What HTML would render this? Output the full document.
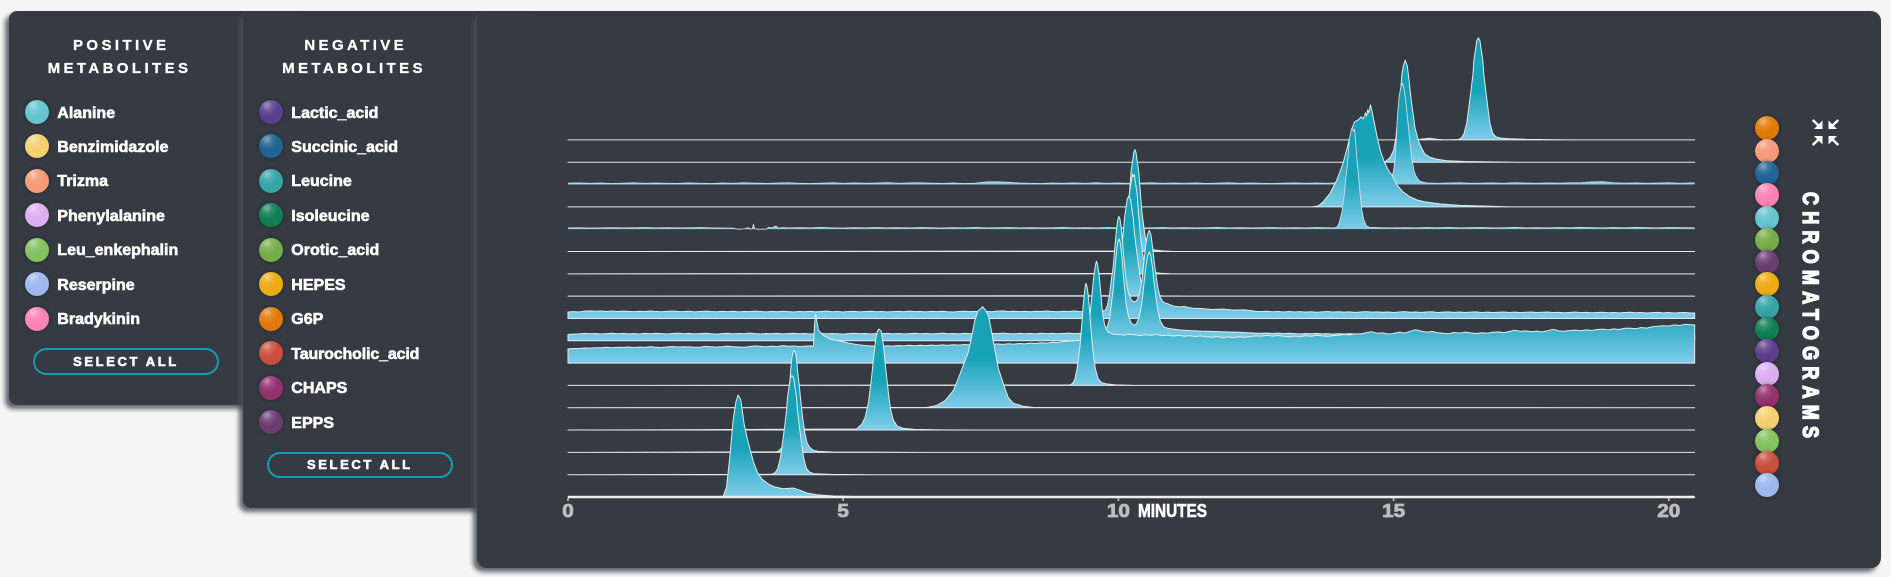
<!DOCTYPE html>
<html>
<head>
<meta charset="utf-8">
<title>Metabolite chromatograms</title>
<style>
html,body{margin:0;padding:0;width:1891px;height:577px;overflow:hidden;background:#f5f5f5;font-family:"Liberation Sans",sans-serif;}
.panel{position:absolute;background:#363a42;box-shadow:-4px 4px 5px rgba(70,80,92,.85);}
.title{position:absolute;left:0;text-align:center;color:#fff;font-weight:bold;font-size:15px;line-height:23px;letter-spacing:3.4px;text-indent:3.4px;-webkit-text-stroke:.3px #fff;}
.entry{position:absolute;left:16.3px;height:24px;width:190px;cursor:pointer;}
.chip{position:absolute;width:24px;height:24px;border-radius:50%;box-shadow:0 0 4px rgba(0,0,0,.35);background-image:radial-gradient(circle at 34% 22%,rgba(255,255,255,.45) 0,rgba(255,255,255,.12) 22%,rgba(255,255,255,0) 45%);}
.entry .chip{left:0;top:0;}
.lbl{position:absolute;left:32px;top:1.5px;color:#fff;font-weight:bold;font-size:16px;line-height:24px;white-space:nowrap;-webkit-text-stroke:.6px #fff;}
.btn{position:absolute;box-sizing:border-box;border:2px solid #149db5;border-radius:14px;color:#fff;font-weight:bold;font-size:13px;letter-spacing:2.6px;display:flex;align-items:center;justify-content:center;-webkit-text-stroke:.6px #fff;cursor:pointer;}
#chart{position:absolute;left:0;top:0;}
</style>
</head>
<body>

<div class="panel" style="left:9px;top:11px;width:300px;height:394px;border-radius:8px;z-index:1">
  <div class="title" style="top:22.5px;width:221px">POSITIVE<br>METABOLITES</div>
  <div class="entry" style="top:89px"><div class="chip" style="background-color:#65c5cf"></div><span class="lbl">Alanine</span></div>
  <div class="entry" style="top:123.45px"><div class="chip" style="background-color:#f5d070"></div><span class="lbl">Benzimidazole</span></div>
  <div class="entry" style="top:157.9px"><div class="chip" style="background-color:#f59a78"></div><span class="lbl">Trizma</span></div>
  <div class="entry" style="top:192.35px"><div class="chip" style="background-color:#dcaef0"></div><span class="lbl">Phenylalanine</span></div>
  <div class="entry" style="top:226.8px"><div class="chip" style="background-color:#84c260"></div><span class="lbl">Leu_enkephalin</span></div>
  <div class="entry" style="top:261.25px"><div class="chip" style="background-color:#9db8ee"></div><span class="lbl">Reserpine</span></div>
  <div class="entry" style="top:295.7px"><div class="chip" style="background-color:#ff83b2"></div><span class="lbl">Bradykinin</span></div>
  <div class="btn" style="left:24.3px;top:337.3px;width:185.4px;height:26.4px">SELECT ALL</div>
</div>

<div class="panel" style="left:243px;top:11px;width:300px;height:497px;border-radius:8px;z-index:2">
  <div class="title" style="top:22.5px;width:222px">NEGATIVE<br>METABOLITES</div>
  <div class="entry" style="top:89px"><div class="chip" style="background-color:#5b3f8e"></div><span class="lbl">Lactic_acid</span></div>
  <div class="entry" style="top:123.45px"><div class="chip" style="background-color:#1f6492"></div><span class="lbl">Succinic_acid</span></div>
  <div class="entry" style="top:157.9px"><div class="chip" style="background-color:#35a5a6"></div><span class="lbl">Leucine</span></div>
  <div class="entry" style="top:192.35px"><div class="chip" style="background-color:#0f7f53"></div><span class="lbl">Isoleucine</span></div>
  <div class="entry" style="top:226.8px"><div class="chip" style="background-color:#76ad48"></div><span class="lbl">Orotic_acid</span></div>
  <div class="entry" style="top:261.25px"><div class="chip" style="background-color:#eeaa13"></div><span class="lbl">HEPES</span></div>
  <div class="entry" style="top:295.7px"><div class="chip" style="background-color:#e07b0a"></div><span class="lbl">G6P</span></div>
  <div class="entry" style="top:330.15px"><div class="chip" style="background-color:#c84f3b"></div><span class="lbl" style="letter-spacing:-.15px">Taurocholic_acid</span></div>
  <div class="entry" style="top:364.6px"><div class="chip" style="background-color:#93306e"></div><span class="lbl">CHAPS</span></div>
  <div class="entry" style="top:399.05px"><div class="chip" style="background-color:#6a3d70"></div><span class="lbl">EPPS</span></div>
  <div class="btn" style="left:24px;top:441.3px;width:185.7px;height:25.4px">SELECT ALL</div>
</div>

<div class="panel" style="left:477px;top:11px;width:1404px;height:557px;border-radius:10px;z-index:3">
  <div class="chip" style="left:1277.8px;top:105.3px;background-color:#e07b0a"></div>
  <div class="chip" style="left:1277.8px;top:127.6px;background-color:#f59a78"></div>
  <div class="chip" style="left:1277.8px;top:149.9px;background-color:#1f6492"></div>
  <div class="chip" style="left:1277.8px;top:172.2px;background-color:#ff83b2"></div>
  <div class="chip" style="left:1277.8px;top:194.5px;background-color:#65c5cf"></div>
  <div class="chip" style="left:1277.8px;top:216.8px;background-color:#76ad48"></div>
  <div class="chip" style="left:1277.8px;top:239.1px;background-color:#6a3d70"></div>
  <div class="chip" style="left:1277.8px;top:261.4px;background-color:#eeaa13"></div>
  <div class="chip" style="left:1277.8px;top:283.7px;background-color:#35a5a6"></div>
  <div class="chip" style="left:1277.8px;top:306px;background-color:#0f7f53"></div>
  <div class="chip" style="left:1277.8px;top:328.3px;background-color:#5b3f8e"></div>
  <div class="chip" style="left:1277.8px;top:350.6px;background-color:#dcaef0"></div>
  <div class="chip" style="left:1277.8px;top:372.9px;background-color:#93306e"></div>
  <div class="chip" style="left:1277.8px;top:395.2px;background-color:#f5d070"></div>
  <div class="chip" style="left:1277.8px;top:417.5px;background-color:#84c260"></div>
  <div class="chip" style="left:1277.8px;top:439.8px;background-color:#c84f3b"></div>
  <div class="chip" style="left:1277.8px;top:462.1px;background-color:#9db8ee"></div>
</div>

<svg id="chart" width="1891" height="577" viewBox="0 0 1891 577" style="z-index:4">
  <defs id="chart-defs"></defs>
  <g id="series-layer"></g>
  <g id="axis-layer"></g>
  <text x="1138" y="517" font-family="Liberation Sans, sans-serif" font-weight="bold" font-size="18" fill="#fff" stroke="#fff" stroke-width=".6" textLength="69" lengthAdjust="spacingAndGlyphs">MINUTES</text>
  <text transform="translate(1803,192) rotate(90) scale(1,1.22)" font-family="Liberation Sans, sans-serif" font-weight="bold" font-size="18" fill="#fff" stroke="#fff" stroke-width="1.2" textLength="246">CHROMATOGRAMS</text>
  <g stroke="#fff" stroke-width="2.5" fill="#fff" style="cursor:pointer">
    <line x1="1812.7" y1="120" x2="1819" y2="126"/><polygon stroke="none" points="1822.5,129 1814,129 1822.5,120.5"/>
    <line x1="1838.3" y1="120" x2="1832" y2="126"/><polygon stroke="none" points="1828.5,129 1837,129 1828.5,120.5"/>
    <line x1="1812.7" y1="145" x2="1819" y2="139"/><polygon stroke="none" points="1822.5,136 1814,136 1822.5,144.5"/>
    <line x1="1838.3" y1="145" x2="1832" y2="139"/><polygon stroke="none" points="1828.5,136 1837,136 1828.5,144.5"/>
  </g>
</svg>

<script>
// ---- Chart data (time in minutes, intensity in display units) ----
const xTickValues = [0, 5, 10, 15, 20];
const xTickLabels = ["0", "5", "10", "15", "20"];
const timeEnd = 20.47;
const fineNoiseStep = 0.1;
const coarseNoiseStep = 0.2;

const g6pPeakTimes = [16.18,16.23,16.28,16.33,16.38,16.41,16.44,16.46,16.49,16.51,16.54,16.57,16.59,16.62,16.64,16.67,16.70,16.75,16.80,16.86,16.95,17.1,17.4,17.8,18.2];
const g6pPeakValues = [0.4,1.9,6.4,17,38,51,65,80,91,99,102,99,91,80,65,51,38,17,6.5,3,1.8,1.2,0.6,0.3,0];
const g6pBumpTimes = [15.4,15.55,15.65,15.8,15.95];
const g6pBumpValues = [0,1,1.6,0.5,0];

const trizmaPeakTimes = [14.8,14.86,14.94,15.0,15.04,15.08,15.12,15.15,15.18,15.21,15.25,15.28,15.32,15.36,15.39,15.43,15.46,15.52,15.57,15.66,15.79,15.97,16.3,16.75,17.3];
const trizmaPeakValues = [0,1,5,12,24,45,65,88,97,102,96,82,62,46,34,26,20,13,8,5,3,1.5,0.7,0.3,0];

const succinicNoise = [1.4,1.6,1.2,1.5,1,1.4,1.7,1.2,1.5,1.3,1.1,1.6,1.3,1,1.5,1.2,1.7,1.4,1.1,1.5,1.8,1.3,1,1.4,1.7,1.3,1.6,1.2,1.5,1.9,1.3,1.6,1.8,1.4,1.1,1.5,1,1.4,2.6,2.8,2.2,1.5,1.3,1,1.5,1.2,1.6,1.3,1.7,1.2,1.5,1.1,1.4,1.7,1.2,1.5,1.3,1.6,1.1,1.4,1.7,1.2,1.5,1.3,1,1.4,1.6,1.2,1.5,1.3,1.7,1.4,1.2,1.6,1.3,1.8,1.5,1.4,1.6,1.3,1.5,1.7,1.2,1.4,1.6,1.3,1.7,1.5,1.2,1.6,1.4,1.7,1.8,2.6,2.9,1.8,1.4,1.6,1.2,1.5,1.7,1.3,1.6];
const succinicPeakTimes = [14.87,14.93,14.97,15.0,15.03,15.07,15.10,15.13,15.16,15.19,15.22,15.25,15.29,15.33,15.37,15.4,15.46,15.52,15.6];
const succinicPeakValues = [1.5,2,7,14,26,69,88,97,101.5,96,84,68,46,26,14,9,4,2.5,1.6];

const bradykininPeakTimes = [13.52,13.63,13.72,13.84,13.97,14.08,14.17,14.25,14.29,14.36,14.41,14.45,14.49,14.51,14.53,14.55,14.58,14.61,14.65,14.70,14.76,14.83,14.90,14.98,15.06,15.17,15.30,15.42,15.57,15.84,16.21,16.75,17.1];
const bradykininPeakValues = [0,1,5,13,27,43,62,79,85,87,90,88,94,91,97,94,102,95,84,70,56,45,37,31,22,15,10,7,5,3,1.5,0.6,0];

const alanineNoise = [1.2,1.4,1.1,1.3,1.5,1.2,1.4,1.6,1.3,1.5,1.2,1.4,1.6,1.3,1.1,1,0,0,0,1,1.3,1.5,1.2,1.7,1.3,1.1,1.5,1.2,1.6,1.3,1.5,1.2,1.6,1.4,1.1,1.5,1.3,1.7,1.2,1.4,1.6,1.3,1.5,1.2,1.4,1.7,1.3,1.5,1.2,1.6,1.3,1.5,1.1,1.4,1.6,1.3,1.5,1.2,1.4,1.7,1.3,1.5,1.2,1.4,1.6,1.3,1.5,1.2,1.6,1.4,1.1,1.5,1.3,1.7,1.4,1.2,1.5,1.3,1.6,1.4,1.7,1.3,1.5,1.6,1.2,1.4,1.7,1.3,1.5,1.2,1.6,1.4,1.7,1.5,1.3,1.6,1.4,1.7,1.5,1.3,1.6,1.5,1.4];
const alanineGapTimes = [3.05,3.1,3.2,3.28,3.3,3.35,3.37,3.39,3.45,3.6,3.65,3.7,3.75,3.78,3.82,3.9];
const alanineGapValues = [0.4,0,0.3,1.5,0,0.5,5,0.5,0,0,2,1,2.5,3.2,1,1.5];
const alaninePeakTimes = [13.92,13.97,14.01,14.06,14.11,14.13,14.16,14.18,14.20,14.23,14.24,14.27,14.29,14.31,14.33,14.36,14.39,14.42,14.46,14.51,14.58];
const alaninePeakValues = [1.2,2,6,17,37,50,65,79,91,99,101,98,100,88,72,55,36,20,9,3,1.5];

const oroticPeakTimes = [9.99,10.04,10.08,10.12,10.17,10.19,10.21,10.23,10.26,10.28,10.30,10.32,10.34,10.37,10.39,10.41,10.43,10.48,10.52,10.58,10.66,10.8,11];
const oroticPeakValues = [0.4,1.9,6.4,17,38,51,65,80,91,99,102,99,91,80,65,51,38,17,6.5,3,1.5,0.6,0];

const eppsPeakTimes = [9.96,10.01,10.05,10.09,10.14,10.16,10.18,10.2,10.23,10.25,10.26,10.27,10.29,10.31,10.34,10.36,10.38,10.4,10.45,10.49,10.55,10.63,10.77,10.97];
const eppsPeakValues = [0.4,1.9,6.4,17,38,51,65,80,91,98,100,97,99,91,80,65,51,38,17,6.5,3,1.5,0.6,0];

const hepesPeakTimes = [9.83,9.88,9.93,9.98,10.03,10.06,10.09,10.11,10.14,10.16,10.19,10.22,10.24,10.27,10.29,10.32,10.35,10.4,10.45,10.5,10.58,10.8,11.3];
const hepesPeakValues = [0.4,2,6,17,38,50,64,78,89,97,100,97,89,78,64,50,38,17,6.5,2.5,1,0.3,0];

const leucineNoise = [6.4,6.8,6.5,7.3,7.6,7.2,7.5,7,7.4,6.9,7.3,7.1,6.8,7.2,6.9,7.4,7,6.7,7.1,7.5,7,6.8,7.2,6.6,7,7.3,6.9,6.7,7.1,6.8,7.2,6.6,7,6.8,7.3,6.9,6.6,7,6.7,7.2,6.8,6.5,7,6.7,7.1,6.6,6.9,7.3,6.7,7,6.5,6.9,7.1,6.6,6.9,7.2,6.7,7,6.5,6.8,7.1,6.7,7.3,6.8,7,6.6,7.1,6.8,7.2,6.7,6.5,6.9,7.2,6.8,7,6.6,7.1,6.7,7.3,7.6,7,7.2,6.8,7.1,6.7,7.2,6.9,7.4,7,6.7,7.2,6.9,7.4,7,6.8,7.2,6.9,7.3,7,7,7,7,7,7,7,7,7,7,7,7,7,7,7,7,7,7,7,7,7,7,7,7,7,7,7,7,7,7.2,6.7,7,6.5,6.9,6.4,6.8,6.3,6.7,6.2,6.6,7,6.4,6.7,6.3,6.6,6.1,6.5,6.8,6.3,6.6,6.2,6.5,6,6.4,6.8,6.2,6.5,6.1,6.4,6.7,6,6.3,6.6,6.1,6.4,5.9,6.3,6.6,6,6.3,5.9,6.2,6.5,6,6.3,5.8,6.2,6.4,5.9,6.2,6.5,5.9,6.1,5.7,6,6.4,5.8,6.1,5.7,6,6.2,5.7,6,5.6,5.9,6.2,5.7,6,5.5,5.8,6.1,5.6,5.9,5.5,5.8,6,5.5,5.8,5.9];
const leucinePeakTimes = [9.76,9.8,9.84,9.87,9.905,9.93,9.95,9.97,9.99,10.01,10.03,10.05,10.07,10.09,10.115,10.14,10.18,10.23,10.28,10.33,10.38,10.42,10.44,10.47,10.5,10.53,10.56,10.59,10.62,10.65,10.68,10.72,10.76,10.82,10.9,11.0,11.1,11.2,11.35,11.5,11.7,11.9,12.1,12.3,12.45];
const leucinePeakValues = [8,13,24,38,51,68,80,91,99,102,99,91,80,66,51,38,26,19,16.5,17.5,24,36,44,60,74,84,88,84,72,57,44,30,21,16,14.6,12.4,11.6,11.9,10.2,10,9,9.3,8.3,8.6,7.6];

const isoleucineNoise = [6.3,6.6,6.9,7.4,7,7.3,6.8,7.2,7.5,7,7.3,6.9,7.2,6.8,7.4,7,7.5,7.1,6.8,7.3,7.6,7,7.4,6.9,7.2,7.5,7,6.7,7.2,7.5,6.9,7.3,7,7.6,7.1,6.8,7.3,7,7.4,6.9,7.2,7.5,7,7.3,6.8,7.1,7.4,6.9,7.3,7,6.7,7.2,7.5,7,7.3,6.8,7.2,7,7.4,6.9,7.3,6.8,7.1,7.5,7,7.3,6.9,7.2,7.6,7,7.3,6.9,7.4,7.1,6.8,7.3,7,7.4,7.1,7.6,7.2,6.9,7.4,7,7.3,6.9,7.5,7.1,7.4,7,7.3,7.6,7.1,7.4,7,7.5,7.2,7.4,7.5,7.5,7.5,7.5,7.5,7.5,7.5,7.5,7.5,7.5,7.5,7.5,7.5,7.5,7.5,7.5,7.5,7.5,7.5,7.5,7.5,7.5,7.5,7.5,7.5,7.5,7.5,7.5,7.5,7.8,7.3,7.6,7.1,7.5,7.2,6.8,7.3,7,7.4,6.9,7.2,6.7,7.1,6.8,7.2,6.6,6.9,6.5,6.8,6.4,6.6,5];
const isoleucinePeakTimes = [9.72,9.78,9.84,9.87,9.905,9.93,9.95,9.97,9.99,10.01,10.03,10.05,10.07,10.09,10.115,10.14,10.18,10.23,10.28,10.33,10.38,10.42,10.44,10.47,10.5,10.53,10.56,10.59,10.62,10.65,10.68,10.72,10.76,10.82,10.9,11.0,11.12,11.3,11.5,11.75,12.0,12.2,12.45];
const isoleucinePeakValues = [8,11,22,36,51,68,80,91,99,102,99,91,80,66,51,37,25,18,15.5,17,24,36,44,60,75,85,89,85,73,57,44,30,20,14,12.4,11.6,10.8,10.2,9.6,9.3,8.8,8.5,7.8];

const lacticNoise = [14.2,14.6,14.5,15.1,15,15.4,15.3,15.9,15.4,15.8,15.7,16.1,15.6,16,15.8,16.3,15.9,15.6,16.2,16.6,16.1,16.4,16.2,15.9,16,16.7,16.3,16,16.4,17,16.4,16.1,15.9,16.6,17.2,16.7,16.3,17,16.5,17.5,16.8,17.1,16.6,16.9,17.2,30,24,23,22,21,20,19,19,18,18,17,17.3,16.9,17.4,17,17.6,17.2,17.8,17.3,17.9,17.5,18,17.6,18.2,17.7,18.3,18,18.6,18.2,18.8,18.3,18.9,18.5,19.2,18.7,19.3,19,19.6,19.2,20,19.6,20.4,20,20.8,20.6,21.5,22,22.4,22.8,23,23.4,24,25,26,27,28.6,28,28.9,28.2,27.6,28.4,27.8,28.6,27.4,28,27,27.8,26.9,27.4,26.6,27.2,26.4,25.8,26.6,25.4,26.2,25.6,26.4,25.7,26.6,27.2,26.8,27.8,27,27.6,26.8,26.2,27,26.3,27.4,26.8,27.9,27.2,26.6,27.5,27.9,28.6,28.2,29.4,29,30.4,31.4,29.8,30.2,29,29.6,31,30,31.8,33.4,32,31,31.6,30.4,29.8,29.4,30.6,30,31,30.2,29.6,30.4,29.8,30.8,31.2,30.4,31.6,32.8,31.8,32.2,31.4,32,31.2,32.4,33.8,32.2,31.8,32.6,33,32.4,33.2,32.6,33.6,34,33.2,34.2,33.6,34.8,35,34.4,35.6,35,36.4,36.8,37.4,37,38.2,37.6,38.8,38.2];
const lacticFirstPeakTimes = [4.44,4.46,4.48,4.50,4.52,4.55,4.63,4.76,4.94,5.1,5.25,5.4,5.55];
const lacticFirstPeakValues = [17,17,39,49,42,33,28,24,22,20,18.5,17.6,17];
const lacticSecondPeakTimes = [9.36,9.42,9.46,9.49,9.52,9.55,9.58,9.6,9.62,9.65,9.68,9.71,9.75,9.81,9.9];
const lacticSecondPeakValues = [24,30,40,51,68,85,97,102,99,88,70,51,38,31,29];

const phenylalaninePeakTimes = [9.12,9.17,9.21,9.25,9.3,9.32,9.34,9.36,9.38,9.4,9.41,9.43,9.45,9.47,9.49,9.51,9.53,9.58,9.63,9.69,9.78,9.95,10.3];
const phenylalaninePeakValues = [0.5,2,6.4,17,38,51,65,80,91,100,102,99,91,80,65,51,38,17,7,3,1.5,0.5,0];

const chapsPeakTimes = [6.52,6.70,6.85,7.0,7.09,7.18,7.27,7.33,7.39,7.45,7.5,7.53,7.58,7.64,7.70,7.76,7.82,7.91,8.0,8.09,8.27,8.45];
const chapsPeakValues = [0.3,2.3,7,17,29,42,55,70,87,97,99,101,98,92,75,57,39,24,10,4.5,1.5,0.3];

const benzimidazolePeakTimes = [5.24,5.34,5.40,5.46,5.51,5.55,5.59,5.62,5.65,5.69,5.73,5.77,5.82,5.86,5.91,5.98,6.09,6.3,6.8,7.4];
const benzimidazolePeakValues = [1,6,13,28,50,71,91,99,101,99,85,63,38,21,10,4,1.7,0.7,0.2,0];

const leuEnkephalinPeakTimes = [3.79,3.84,3.89,3.93,3.97,4.0,4.03,4.05,4.07,4.09,4.11,4.13,4.15,4.17,4.2,4.23,4.26,4.3,4.34,4.39,4.46,4.55,4.8,5.5,6.5];
const leuEnkephalinPeakValues = [0.5,2,5,15,34,51,70,85,95,100,102,100,94,82,68,51,36,20,10,5,2,1,0.4,0.2,0];

const taurocholicPeakTimes = [3.7,3.76,3.81,3.86,3.91,3.94,3.97,3.99,4.02,4.04,4.07,4.10,4.12,4.15,4.17,4.2,4.23,4.28,4.33,4.39,4.47,4.8,5.5];
const taurocholicPeakValues = [0.4,1.9,6,17,37,50,64,78,89,97,99,97,89,78,64,50,37,17,6.5,2.5,1,0.3,0];

const reserpinePeakTimes = [2.82,2.88,2.94,3.0,3.05,3.09,3.14,3.2,3.25,3.31,3.37,3.44,3.52,3.64,3.76,3.91,4.09,4.22,4.34,4.52,4.82,5.4,6.5];
const reserpinePeakValues = [0.5,10,40,77,95,102,97,73,60,47,35,25,18,13,10,8.3,9,6.7,4,2.3,1,0.3,0];

// Rows are listed top to bottom; lower rows are painted over upper rows.
const seriesRows = [
  { name: "g6p", noise: null, step: 0, thin: false, peaks: [[g6pBumpTimes, g6pBumpValues], [g6pPeakTimes, g6pPeakValues]] },
  { name: "trizma", noise: null, step: 0, thin: false, peaks: [[trizmaPeakTimes, trizmaPeakValues]] },
  { name: "succinic-acid", noise: succinicNoise, step: coarseNoiseStep, thin: true, peaks: [[succinicPeakTimes, succinicPeakValues]] },
  { name: "bradykinin", noise: null, step: 0, thin: false, peaks: [[bradykininPeakTimes, bradykininPeakValues]] },
  { name: "alanine", noise: alanineNoise, step: coarseNoiseStep, thin: true, peaks: [[alanineGapTimes, alanineGapValues], [alaninePeakTimes, alaninePeakValues]] },
  { name: "orotic-acid", noise: null, step: 0, thin: false, peaks: [[oroticPeakTimes, oroticPeakValues]] },
  { name: "epps", noise: null, step: 0, thin: false, peaks: [[eppsPeakTimes, eppsPeakValues]] },
  { name: "hepes", noise: null, step: 0, thin: false, peaks: [[hepesPeakTimes, hepesPeakValues]] },
  { name: "leucine", noise: leucineNoise, step: fineNoiseStep, thin: false, peaks: [[leucinePeakTimes, leucinePeakValues]] },
  { name: "isoleucine", noise: isoleucineNoise, step: fineNoiseStep, thin: false, peaks: [[isoleucinePeakTimes, isoleucinePeakValues]] },
  { name: "lactic-acid", noise: lacticNoise, step: fineNoiseStep, thin: false, peaks: [[lacticFirstPeakTimes, lacticFirstPeakValues], [lacticSecondPeakTimes, lacticSecondPeakValues]] },
  { name: "phenylalanine", noise: null, step: 0, thin: false, peaks: [[phenylalaninePeakTimes, phenylalaninePeakValues]] },
  { name: "chaps", noise: null, step: 0, thin: false, peaks: [[chapsPeakTimes, chapsPeakValues]] },
  { name: "benzimidazole", noise: null, step: 0, thin: false, peaks: [[benzimidazolePeakTimes, benzimidazolePeakValues]] },
  { name: "leu-enkephalin", noise: null, step: 0, thin: false, peaks: [[leuEnkephalinPeakTimes, leuEnkephalinPeakValues]] },
  { name: "taurocholic-acid", noise: null, step: 0, thin: false, peaks: [[taurocholicPeakTimes, taurocholicPeakValues]] },
  { name: "reserpine", noise: null, step: 0, thin: false, peaks: [[reserpinePeakTimes, reserpinePeakValues]] }
];

// ---- Axis functions ----
const SVGNS = "http://www.w3.org/2000/svg";
function xScale(t) { return 568 + t * 55.04; }
function rowBaseline(i) { return 139.9 + i * 22.32; }
function yScale(rowIndex, v) { return rowBaseline(rowIndex) - v; }

function collectPoints(row) {
  const spans = row.peaks.map(function (p) { return [p[0][0], p[0][p[0].length - 1]]; });
  const pts = [];
  if (row.noise) {
    row.noise.forEach(function (v, i) {
      const t = i * row.step;
      const covered = spans.some(function (s) { return t >= s[0] && t <= s[1]; });
      if (!covered && t < timeEnd) pts.push([t, v]);
    });
  }
  row.peaks.forEach(function (p) {
    p[0].forEach(function (t, i) { pts.push([t, p[1][i]]); });
  });
  pts.sort(function (a, b) { return a[0] - b[0]; });
  if (pts[0][0] > 0) pts.unshift([0, row.noise ? pts[0][1] : 0]);
  const last = pts[pts.length - 1];
  if (last[0] < timeEnd) pts.push([timeEnd, row.noise ? last[1] : 0]);
  return pts;
}

const defs = document.getElementById("chart-defs");
const seriesLayer = document.getElementById("series-layer");
const axisLayer = document.getElementById("axis-layer");

seriesRows.forEach(function (row, i) {
  const base = rowBaseline(i);
  const grad = document.createElementNS(SVGNS, "linearGradient");
  grad.setAttribute("id", "fill-" + i);
  grad.setAttribute("gradientUnits", "userSpaceOnUse");
  grad.setAttribute("x1", "0");
  grad.setAttribute("x2", "0");
  grad.setAttribute("y1", String(base - 50));
  grad.setAttribute("y2", String(base));
  const stopTop = document.createElementNS(SVGNS, "stop");
  stopTop.setAttribute("offset", "0");
  stopTop.setAttribute("stop-color", "#17a2b8");
  const stopBottom = document.createElementNS(SVGNS, "stop");
  stopBottom.setAttribute("offset", "1");
  stopBottom.setAttribute("stop-color", "#80cdea");
  grad.appendChild(stopTop);
  grad.appendChild(stopBottom);
  defs.appendChild(grad);

  const pts = collectPoints(row);
  let top = "";
  pts.forEach(function (p, k) {
    top += (k === 0 ? "M" : "L") + xScale(p[0]).toFixed(2) + " " + yScale(i, p[1]).toFixed(2);
  });
  const closed = "M" + xScale(0).toFixed(2) + " " + base.toFixed(2) + "L" + top.slice(1) + "L" + xScale(timeEnd).toFixed(2) + " " + base.toFixed(2) + "Z";

  const area = document.createElementNS(SVGNS, "path");
  area.setAttribute("d", closed);
  area.setAttribute("fill", "url(#fill-" + i + ")");
  area.setAttribute("stroke", row.thin ? "none" : "#e2eaec");
  area.setAttribute("stroke-width", "1");
  area.setAttribute("stroke-linejoin", "round");
  
  
  seriesLayer.appendChild(area);

  if (row.thin) {
    const trace = document.createElementNS(SVGNS, "path");
    trace.setAttribute("d", top);
    trace.setAttribute("fill", "none");
    trace.setAttribute("stroke", "#d5dfe2");
    trace.setAttribute("stroke-width", ".85");
    trace.setAttribute("stroke-linejoin", "round");
    
    
    seriesLayer.appendChild(trace);
  }
});

const axisLine = document.createElementNS(SVGNS, "line");
axisLine.setAttribute("x1", String(xScale(0)));
axisLine.setAttribute("x2", String(xScale(timeEnd)));
axisLine.setAttribute("y1", "497");
axisLine.setAttribute("y2", "497");
axisLine.setAttribute("stroke", "#f0f0f0");
axisLine.setAttribute("stroke-width", "2.4");


axisLayer.appendChild(axisLine);

xTickValues.forEach(function (value, i) {
  const tick = document.createElementNS(SVGNS, "line");
  tick.setAttribute("x1", String(xScale(value)));
  tick.setAttribute("x2", String(xScale(value)));
  tick.setAttribute("y1", "498");
  tick.setAttribute("y2", "501");
  tick.setAttribute("stroke", "#c4c4c4");
  tick.setAttribute("stroke-width", "1.6");
  
  
  axisLayer.appendChild(tick);

  const label = document.createElementNS(SVGNS, "text");
  label.setAttribute("x", String(xScale(value)));
  label.setAttribute("y", "517");
  label.setAttribute("text-anchor", "middle");
  label.setAttribute("font-family", "Liberation Sans, sans-serif");
  label.setAttribute("font-weight", "bold");
  label.setAttribute("font-size", "18");
  label.setAttribute("textLength", String(xTickLabels[i].length * 11.5));
  label.setAttribute("lengthAdjust", "spacingAndGlyphs");
  label.setAttribute("fill", "#bdbdbd");
  label.setAttribute("stroke", "#bdbdbd");
  label.setAttribute("stroke-width", ".8");
  
  
  label.textContent = xTickLabels[i];
  axisLayer.appendChild(label);
});
</script>
</body>
</html>
